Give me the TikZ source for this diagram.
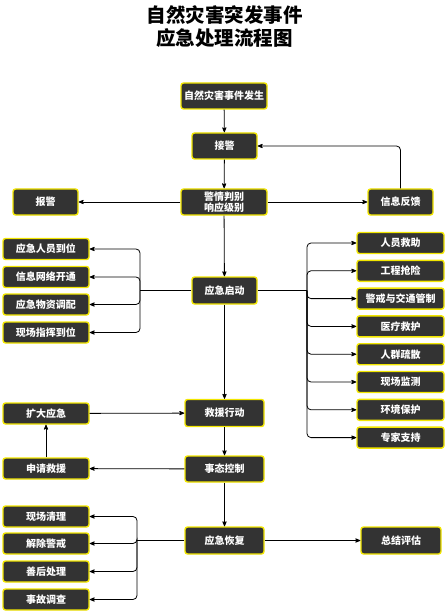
\documentclass[tikz,border=0pt]{standalone}
\usepackage{fontspec}
\setmainfont{Noto Sans CJK SC}
\usepackage{tikz}
\usetikzlibrary{arrows}
\definecolor{boxfill}{HTML}{333333}
\definecolor{glow}{HTML}{F2E600}
\tikzset{
>=stealth',
  stepbox/.style={
    rectangle,
    rounded corners=2.5pt,
    fill=boxfill,
    draw=glow, line width=1.4pt,
    text=white,
    font=\fontsize{10}{10.5}\selectfont\bfseries,
    inner sep=0pt,
    minimum width=86pt,
    minimum height=21pt,
    align=center},
  shortbox/.style={stepbox, minimum width=65pt, minimum height=26pt},
  midbox/.style={stepbox, minimum width=79pt, minimum height=27pt},
  line/.style={draw, line width=0.8pt, ->},
  branch/.style={line, rounded corners=4pt},
}

\begin{document}
\begin{tikzpicture}[x=1pt,y=-1pt]
\useasboundingbox (0,0) rectangle (447,612);
\node[font=\fontsize{19.5}{23}\selectfont\bfseries, align=center] (title) at (224.5,27) {自然灾害突发事件\\应急处理流程图};
% main column
\node[stepbox, minimum height=26pt] (fs) at (224,96) {自然灾害事件发生};
\node[shortbox] (jj) at (224.5,146) {接警};
\node[stepbox, minimum height=26pt] (pb) at (224,202) {警情判别\\响应级别};
\node[shortbox] (bj) at (45.5,202) {报警};
\node[shortbox] (fk) at (400.5,202) {信息反馈};
\node[shortbox, minimum height=27pt] (qd) at (224.5,290.5) {应急启动};
\node[midbox] (jy) at (224.5,413) {救援行动};
\node[stepbox] (kd) at (46,413.5) {扩大应急};
\node[midbox, minimum height=26pt] (tk) at (224.5,469) {事态控制};
\node[stepbox] (sq) at (46,468.5) {申请救援};
\node[midbox] (hf) at (224.5,540.5) {应急恢复};
\node[midbox, minimum width=80pt] (pg) at (401,540.5) {总结评估};

\draw[line] (fs) -- (jj);
\draw[line] (jj) -- (pb);
\draw[line] (pb) -- (bj);
\draw[line] (pb) -- (fk);
\draw[line, rounded corners=4pt] (fk.north) |- (jj.east);
\draw[line] (pb) -- (qd);
\draw[line] (qd) -- (jy);
\draw[line] (kd) -- (jy);
\draw[line] (jy) -- (tk);
\draw[line] (tk) -- (sq);
\draw[line] (sq) -- (kd);
\draw[line] (tk) -- (hf);
\draw[line] (hf) -- (pg);

% start branches
\coordinate (lb) at (140,290.5);
\coordinate (rb) at (307,290.5);
\draw[line width=0.8pt] (qd.west) -- (lb);
\draw[line width=0.8pt] (qd.east) -- (rb);
\foreach \i/\y/\txt in {1/249/应急人员到位, 2/277/信息网络开通, 3/304.5/应急物资调配, 4/332.5/现场指挥到位}{
    \node[stepbox] (l\i) at (46,\y) {\txt};
    \draw[branch] (lb) |- (l\i.east);
}
\foreach \i/\y/\txt in {1/243/人员救助, 2/270.8/工程抢险, 3/298.6/警戒与交通管制, 4/326.4/医疗救护, 5/354.2/人群疏散, 6/382/现场监测, 7/409.8/环境保护, 8/437.6/专家支持}{
    \node[stepbox, minimum width=87pt] (r\i) at (400.5,\y) {\txt};
    \draw[branch] (rb) |- (r\i.west);
}

% recovery branches
\coordinate (hb) at (137,540.5);
\draw[line width=0.8pt] (hf.west) -- (hb);
\foreach \i/\y/\txt in {1/516.5/现场清理, 2/543.5/解除警戒, 3/571.5/善后处理, 4/599.5/事故调查}{
    \node[stepbox] (h\i) at (46,\y) {\txt};
    \draw[branch] (hb) |- (h\i.east);
}
\end{tikzpicture}
\end{document}
